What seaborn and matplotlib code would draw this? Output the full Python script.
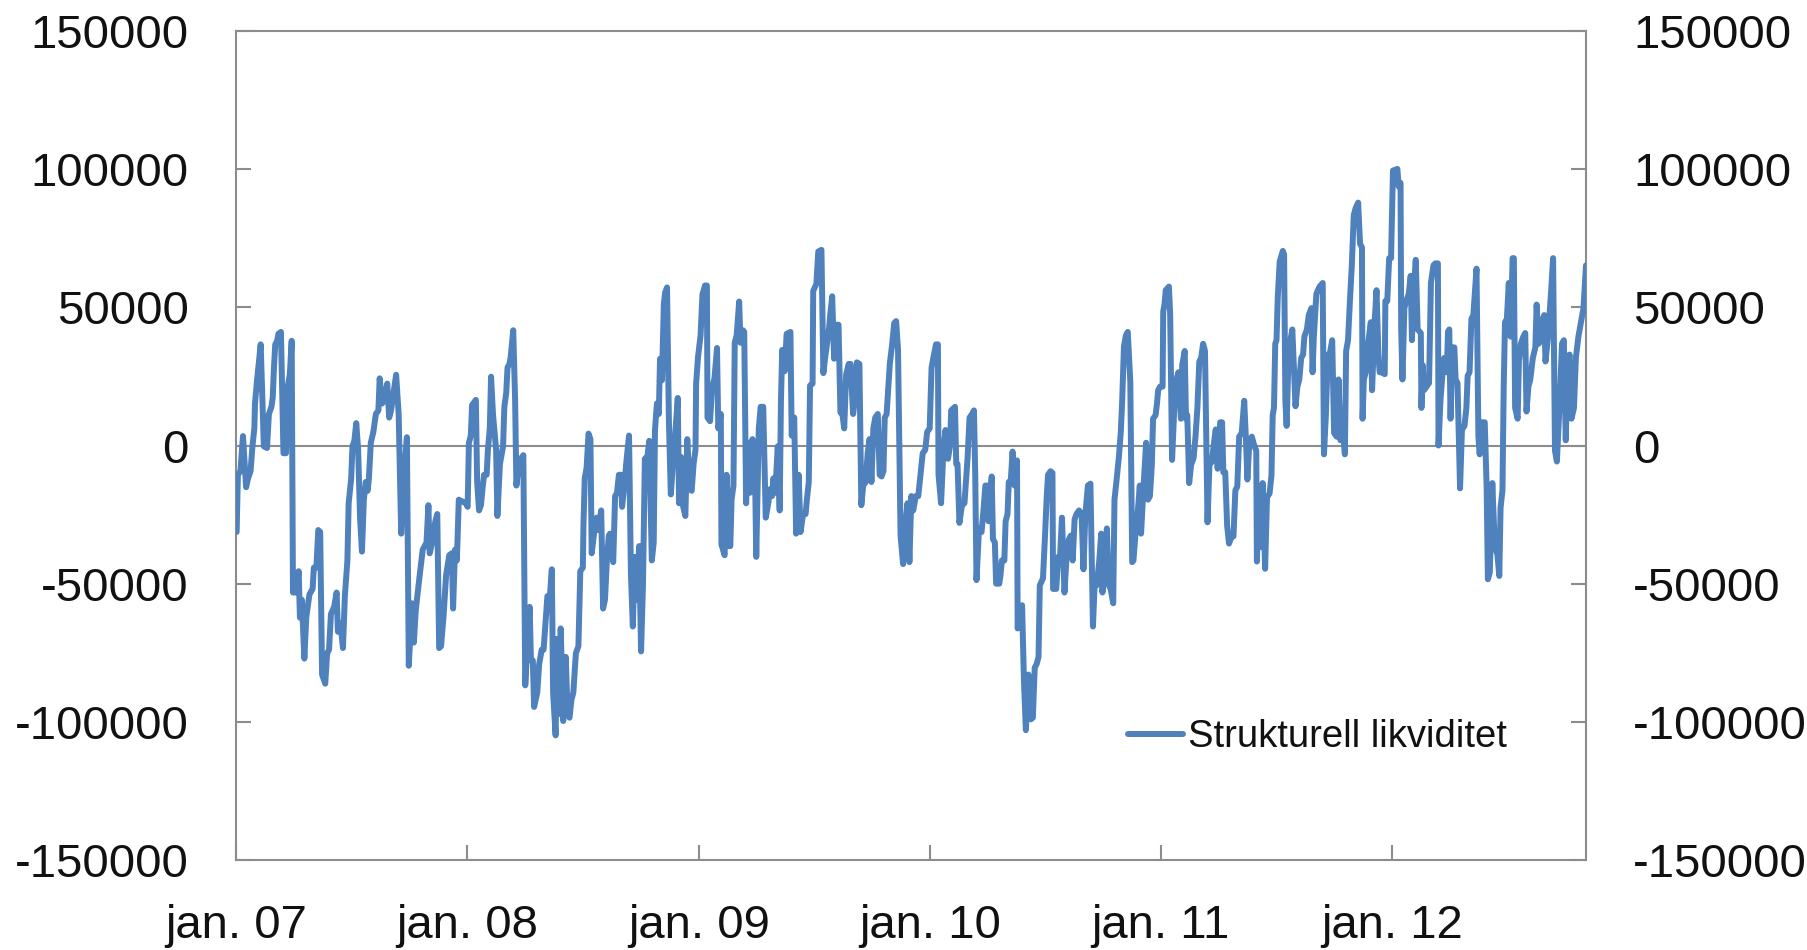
import numpy as np
import pandas as pd
import matplotlib
matplotlib.use("Agg")
import matplotlib.pyplot as plt
import seaborn as sns

# ---------------- data ----------------
START_DATE = "2007-01-01"   # day offsets below are counted from this date

days_a = [1, 3, 7, 11, 16, 19, 23, 26, 29, 30, 33, 39, 44, 49, 52, 56, 58, 60, 62, 65,
          67, 71, 75, 79, 82, 85, 88, 90, 95, 99, 101, 104, 108, 111, 116, 121, 123, 127, 130, 133,
          136, 141, 144, 147, 150, 155, 159, 161, 165, 169, 172, 176, 178, 182, 184, 187, 190, 193, 196, 199,
          202, 205, 208, 210, 213, 217, 221, 225, 227, 231, 234, 239, 242, 245, 249, 253, 257, 261, 265, 270,
          273, 278, 281, 284, 289, 295, 301, 304, 306, 310, 315, 318, 321, 324, 328, 332, 337, 341, 343, 346,
          349, 352]
vals_a = [-31300, -10600, -9300, 3400, -15100, -11900, -9300, -300, 6200, 15200,
          23000, 36600, -300, -900, 11400, 14000, 17200, 28200, 36600, 37900,
          40400, 41100, -2800, -2800, 21700, 25600, 37900, -53200, -53200, -45500,
          -62300, -55800, -77100, -62300, -53900, -51900, -44200, -44200, -30600, -31300,
          -82900, -86200, -75200, -73900, -61000, -58400, -53200, -67400, -64200, -73300,
          -54500, -41600, -20900, -11900, -300, 1700, 8100, -1600, -26100, -38400,
          -19600, -13200, -16400, -11900, 1000, 4900, 11400, 12700, 24300, 15200,
          16500, 22400, 10100, 12700, 19100, 25600, 11400, -31900, -11900, 3000,
          -79700, -57100, -71300, -59700, -49400, -37700, -35100, -21600, -39000, -35100,
          -27400, -24800, -73300, -72600, -61600, -46800, -39700, -39000, -59000, -37700,
          -41600, -19600]

days_b = [363, 366, 368, 371, 373, 379, 381, 384, 387, 390, 392, 396, 398, 401, 403, 406, 409, 411, 413, 417,
          422, 424, 427, 429, 432, 434, 438, 441, 443, 447, 452, 454, 457, 461, 464, 466, 469, 471, 476, 479,
          483, 486, 490, 492, 496, 499, 501, 505, 507, 510, 513, 517, 521, 524, 527, 530, 533, 537, 541, 544,
          548, 549, 551, 554, 557, 560, 562, 565, 568, 570, 573, 577, 580, 583, 586, 589, 591, 596, 599, 602,
          605, 608, 610, 613, 617, 621, 624, 627, 630, 633, 637, 640, 643, 646, 650, 653, 657, 660, 662, 665,
          668, 670, 673, 676, 678, 681, 684, 687, 691, 693, 698, 700, 703, 706, 710, 713, 717]
vals_b = [-20900, -22200, 1000, 3600, 14600, 16500, -13200, -23500, -21600, -14500,
          -10600, -10600, -1600, 6200, 24900, 11400, 3600, -1600, -25500, -6700,
          -300, 14000, 19100, 28200, 29500, 32000, 41700, 16500, -14500, -6700,
          -4100, -3500, -86800, -70000, -58400, -77800, -77800, -94600, -89400, -79100,
          -73900, -73900, -61000, -54500, -54500, -44800, -89400, -104900, -70000, -97200,
          -66200, -99700, -76500, -97200, -98500, -92000, -89400, -75200, -72600, -45500,
          -44200, -28700, -11900, -8000, 4300, 2300, -39000, -33200, -27400, -26100,
          -30600, -23500, -59000, -55800, -41600, -32600, -31900, -42200, -18300, -17100,
          -10600, -10600, -22200, -15800, -5400, 3600, -46800, -65500, -40300, -55800,
          -36400, -74500, -50600, -4800, -4100, 1700, -41600, -35100, 5600, 15200,
          11400, 31400, 23600, 51400, 55300, 57200, 8800, -17700, -4100, 1000,
          17200, -20900, -4100, -21600, -25500, 2300, -15800]

days_c = [720, 723, 726, 727, 730, 734, 737, 741, 744, 745, 749, 752, 756, 760, 762, 766, 767, 772, 775, 778,
          781, 783, 786, 788, 791, 795, 797, 801, 803, 806, 809, 812, 816, 820, 822, 826, 829, 833, 837, 841,
          844, 847, 849, 852, 856, 859, 861, 863, 867, 870, 876, 878, 882, 885, 889, 892, 896, 900, 902, 905,
          907, 911, 912, 917, 920, 925, 928, 931, 937, 939, 942, 945, 948, 952, 955, 958, 961, 964, 968, 971,
          975, 978, 981, 985, 988, 991, 995, 998, 1001, 1004, 1007, 1010, 1014, 1017, 1020, 1023, 1025, 1028, 1033, 1037,
          1040, 1043, 1046, 1050, 1054, 1058, 1061, 1064, 1067, 1070, 1074, 1078]
vals_c = [-16400, -6700, -1600, 22400, 32000, 39800, 54700, 57900, 57900, 10100,
          8800, 20400, 24300, 35300, 6200, 11400, -35800, -39700, -10600, -36400,
          -36400, -19600, -14500, 37200, 39800, 52100, 37200, 41700, 41100, -20900,
          1000, -17100, 2300, -9300, -40300, 6200, 14000, 14000, -26100, -20900,
          -15800, -18300, -11900, -17100, -300, -23500, 15900, 34600, 26900, 40400,
          41100, 3600, 10100, -31900, -10600, -31300, -24800, -24800, -19600, -13200,
          21700, 22400, 55900, 58500, 70200, 70800, 26200, 32000, 42400, 47500,
          54000, 31400, 43700, 43700, 12000, 11400, 6200, 25600, 29500, 29500,
          11400, 16500, 30100, 29500, -21600, -14500, -13200, -2800, 2300, -13200,
          6200, 10100, 11400, -10600, -11200, -9300, 10100, 11400, 29500, 37200,
          44300, 45000, 34600, -32600, -42900, -27400, -20900, -42200, -18300, -23500,
          -18300, -18300]

days_d = [1085, 1089, 1092, 1096, 1099, 1102, 1106, 1109, 1110, 1114, 1118, 1121, 1125, 1128, 1130, 1136, 1138, 1140, 1143, 1147,
          1151, 1156, 1159, 1163, 1166, 1168, 1170, 1174, 1178, 1181, 1184, 1188, 1189, 1194, 1196, 1199, 1201, 1206, 1208, 1210,
          1214, 1216, 1219, 1221, 1224, 1227, 1230, 1234, 1235, 1239, 1242, 1245, 1248, 1252, 1256, 1259, 1262, 1265, 1268, 1270,
          1275, 1278, 1281, 1283, 1287, 1290, 1291, 1296, 1299, 1302, 1305, 1309, 1312, 1316, 1319, 1322, 1325, 1328, 1332, 1336,
          1339, 1342, 1346, 1350, 1354, 1357, 1360, 1364, 1367, 1369, 1372, 1376, 1379, 1382, 1386, 1388, 1391, 1395, 1398, 1400,
          1403, 1406, 1409, 1413, 1416, 1418, 1421, 1425, 1428, 1430, 1434, 1438, 1441, 1444]
vals_d = [-2800, -1600, 4900, 6200, 28200, 32000, 36600, 36600, -10600, -20900,
          -300, 5600, -4800, -300, 12700, 14000, -6700, -6700, -28000, -21600,
          -20900, -4100, 10100, 11400, 12700, -10600, -48700, -30000, -31300, -23500,
          -14500, -14500, -27400, -11200, -33900, -35100, -50000, -50000, -46800, -41600,
          -41600, -27400, -24800, -13200, -13200, -2200, -14500, -5400, -66200, -62300,
          -57800, -85500, -103000, -82900, -99100, -98500, -80400, -79100, -76500, -50600,
          -48100, -33900, -18300, -10600, -9300, -9900, -51900, -51900, -40300, -40300,
          -26100, -53200, -41600, -33900, -32600, -41600, -26700, -24800, -23500, -24800,
          -44800, -24800, -14500, -13800, -65500, -48100, -50600, -41600, -31900, -53200,
          -42900, -30000, -50600, -51900, -57100, -19600, -13200, -4100, 4900, 15200,
          35900, 39800, 41100, 23000, -42200, -41600, -32600, -23500, -14500, -31900,
          -14500, 1000, -19600, -18300]

days_e = [1447, 1449, 1453, 1455, 1457, 1460, 1464, 1465, 1467, 1469, 1474, 1476, 1479, 1483, 1486, 1489, 1493, 1495, 1499, 1501,
          1503, 1506, 1509, 1513, 1516, 1519, 1522, 1525, 1528, 1531, 1535, 1538, 1542, 1545, 1548, 1551, 1555, 1558, 1560, 1563,
          1566, 1569, 1573, 1576, 1579, 1582, 1585, 1589, 1593, 1596, 1598, 1601, 1605, 1608, 1612, 1613, 1616, 1619, 1622, 1626,
          1629, 1633, 1636, 1638, 1640, 1642, 1644, 1646, 1649, 1654, 1656, 1658, 1660, 1663, 1665, 1669, 1674, 1677, 1680, 1683,
          1686, 1688, 1692, 1695, 1699, 1701, 1703, 1707, 1712, 1717, 1719, 1722, 1725, 1728, 1732, 1735, 1739, 1742, 1745, 1748,
          1752, 1754, 1757, 1760, 1763, 1766, 1769, 1773, 1776, 1779, 1780, 1782, 1785, 1788, 1793, 1795, 1799, 1802, 1805, 1807]
vals_e = [-7100, 9700, 11000, 14900, 20000, 21300, 21300, 48500, 51000, 56200,
          57500, 47200, -5200, 16200, 23900, 26500, 9700, 29100, 34200, 9700,
          11000, -13600, -7100, -4500, 3200, 13600, 30400, 31700, 36800, 34200,
          -27800, -7100, -5800, 600, 5800, -8400, 8400, 8400, -9700, -9700,
          -29100, -35500, -32900, -32900, -16200, -14900, 3200, 4500, 16200, 600,
          -12300, 600, 3200, 600, -1900, -42000, -14900, -36800, -13600, -44600,
          -18700, -17400, -11000, 11000, 13600, 36800, 38100, 53600, 66500, 70400,
          69100, 16200, 7100, 32900, 36800, 42000, 14200, 21300, 23900, 31700,
          32900, 39400, 42000, 47200, 49700, 26500, 39400, 54900, 57500, 58800,
          -3200, 11000, 32900, 32900, 38100, 4500, 3200, 23900, 1900, 8400,
          -3200, 34200, 38100, 52300, 65200, 83300, 85900, 87900, 73000, 71700,
          9700, 23900, 26500, 35500, 44600, 20000, 44600, 56200, 32900, 26500]

days_f = [1810, 1815, 1816, 1819, 1822, 1825, 1828, 1835, 1837, 1840, 1841, 1843, 1846, 1849, 1853, 1856, 1858, 1860, 1864, 1867,
          1872, 1873, 1875, 1877, 1881, 1885, 1888, 1892, 1895, 1899, 1900, 1903, 1906, 1909, 1913, 1915, 1917, 1919, 1922, 1925,
          1927, 1930, 1934, 1937, 1941, 1944, 1946, 1949, 1952, 1955, 1958, 1960, 1963, 1965, 1968, 1973, 1976, 1978, 1981, 1985,
          1989, 1993, 1996, 1998, 2001, 2003, 2005, 2008, 2011, 2014, 2017, 2019, 2021, 2025, 2027, 2030, 2034, 2037, 2039, 2042,
          2045, 2049, 2053, 2055, 2058, 2062, 2065, 2067, 2069, 2073, 2076, 2078, 2081, 2084, 2087, 2092, 2095, 2098, 2101, 2104,
          2107, 2110, 2114, 2117, 2121, 2123, 2126, 2129, 2133]
vals_f = [26500, 25800, 52300, 52300, 67800, 67800, 99500, 100100, 93700, 95000,
          42000, 23900, 49700, 52300, 54900, 61400, 38100, 52300, 67200, 42000,
          40700, 13600, 29100, 20000, 21300, 22600, 58800, 65200, 65900, 65900,
          0, 16200, 25200, 31700, 26500, 41300, 42000, 9700, 35500, 35500,
          23900, 22600, -15500, 5800, 7100, 13600, 25200, 26500, 45900, 47200,
          57500, 64000, 3200, -3200, 8400, 8400, -14900, -48400, -45900, -13600,
          -36800, -39400, -47200, -22600, -16200, 21300, 44600, 45900, 58800, 39400,
          67800, 67800, 13600, 9700, 30400, 36800, 39400, 40700, 12300, 21300,
          23900, 31700, 35500, 51000, 36800, 38100, 45900, 47200, 30400, 39400,
          49700, 56200, 67800, -1900, -5800, 18700, 36800, 38100, 1900, 29100,
          32900, 9700, 13600, 31700, 39400, 42000, 45900, 49700, 65200]

series_label = "Strukturell likviditet"
y_ticks = [-150000, -100000, -50000, 0, 50000, 100000, 150000]
x_tick_dates = ["2007-01-01", "2008-01-01", "2009-01-01", "2010-01-01", "2011-01-01", "2012-01-01"]
x_tick_labels = ["jan. 07", "jan. 08", "jan. 09", "jan. 10", "jan. 11", "jan. 12"]

# ---------------- assemble ----------------
days = days_a + days_b + days_c + days_d + days_e + days_f
vals = vals_a + vals_b + vals_c + vals_d + vals_e + vals_f
assert len(days) == len(vals)
df = pd.DataFrame({
    "dato": pd.Timestamp(START_DATE) + pd.to_timedelta(days, unit="D"),
    "verdi": vals,
})

# ---------------- style ----------------
sns.set_theme(style="white")
plt.rcParams["font.family"] = ["Liberation Sans", "DejaVu Sans"]
plt.rcParams["axes.unicode_minus"] = False

LINE_BLUE = "#4F81BD"
AXIS_GREY = "#8C8C8C"

W, H = 1808, 950
fig = plt.figure(figsize=(W / 100, H / 100), dpi=100)
fig.patch.set_facecolor("white")
ax = fig.add_axes([236 / W, 1 - 860 / H, 1350 / W, 829 / H])

sns.lineplot(data=df, x="dato", y="verdi", ax=ax, color=LINE_BLUE,
             linewidth=4.3, label=series_label, estimator=None, sort=False,
             zorder=3)
ax.axhline(0, color=AXIS_GREY, linewidth=1.5, zorder=1)

ax.set_ylim(y_ticks[0], y_ticks[-1])
ax.set_xlim(pd.Timestamp(START_DATE), df["dato"].iloc[-1])
ax.set_yticks(y_ticks)
ax.set_yticklabels([str(v) for v in y_ticks])
ax.set_xticks([pd.Timestamp(d) for d in x_tick_dates])
ax.set_xticklabels(x_tick_labels)
ax.set_xlabel("")
ax.set_ylabel("")
ax.grid(False)

for side in ["left", "right", "top", "bottom"]:
    ax.spines[side].set_visible(True)
    ax.spines[side].set_color(AXIS_GREY)
    ax.spines[side].set_linewidth(1.5)

ax.tick_params(axis="y", which="major", direction="in", length=10.8, width=1.5,
               color=AXIS_GREY, left=True, right=True, labelleft=True,
               labelright=True, labelsize=34, labelcolor="#111111", pad=34)
ax.tick_params(axis="x", which="major", direction="in", length=10.8, width=1.5,
               color=AXIS_GREY, bottom=True, top=False, labelsize=34,
               labelcolor="#111111", pad=32)

leg = ax.legend(loc="center left", bbox_to_anchor=(0.6607, 0.148),
                frameon=False, fontsize=27.5, handlelength=1.45,
                handletextpad=0.13, borderpad=0, borderaxespad=0)
for t in leg.get_texts():
    t.set_color("#111111")

fig.savefig("out.png", dpi=100, facecolor="white")
